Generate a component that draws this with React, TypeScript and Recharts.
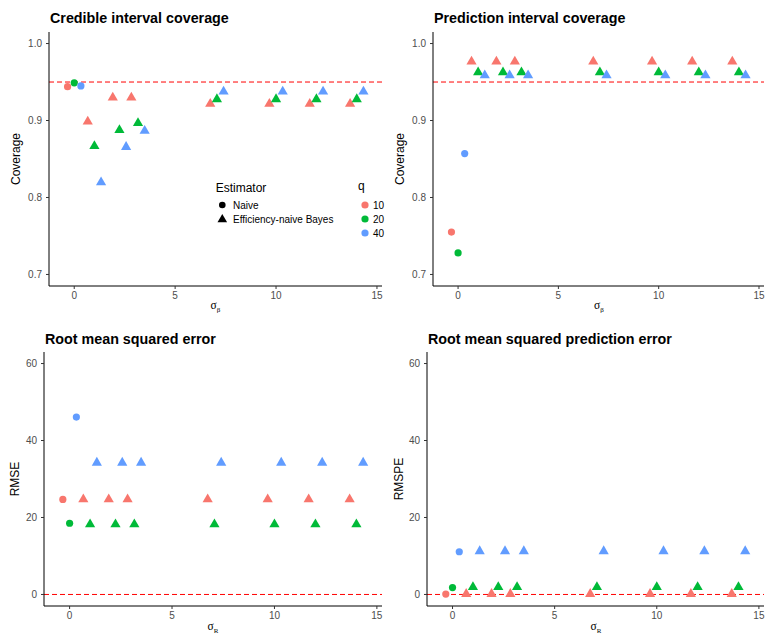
import React from 'react'
import { ScatterChart, Scatter, XAxis, YAxis, ReferenceLine } from 'recharts'

// sigma levels used by the efficiency-naive Bayes estimator; naive sits at 0
const sigma = [1, 2.24, 3.16, 7.07, 10, 12, 14]
const qLevels = ['10', '20', '40']
const qColors = ['#F8766D', '#00BA38', '#619CFF']
const dodge = [-0.33, 0, 0.33]

const xTicks = [0, 5, 10, 15]
const covTicks = [0.7, 0.8, 0.9, 1.0]
const errTicks = [0, 20, 40, 60]

// Credible interval coverage
const ciNaive = [0.944, 0.949, 0.945]
const ciEnb10 = [0.899, 0.930, 0.930, 0.922, 0.922, 0.922, 0.922]
const ciEnb20 = [0.867, 0.888, 0.897, 0.928, 0.928, 0.928, 0.928]
const ciEnb40 = [0.820, 0.866, 0.887, 0.938, 0.938, 0.938, 0.938]

// Prediction interval coverage
const piNaive = [0.755, 0.728, 0.857]
const piEnb10 = [0.977, 0.977, 0.977, 0.977, 0.977, 0.977, 0.977]
const piEnb20 = [0.963, 0.963, 0.963, 0.963, 0.963, 0.963, 0.963]
const piEnb40 = [0.959, 0.959, 0.959, 0.959, 0.959, 0.959, 0.959]

// RMSE
const rmseNaive = [24.7, 18.5, 46.1]
const rmseEnb10 = [24.8, 24.8, 24.8, 24.8, 24.8, 24.8, 24.8]
const rmseEnb20 = [18.3, 18.3, 18.3, 18.3, 18.3, 18.3, 18.3]
const rmseEnb40 = [34.3, 34.3, 34.3, 34.3, 34.3, 34.3, 34.3]

// RMSPE
const rmspeNaive = [0.1, 1.8, 11.1]
const rmspeEnb10 = [0.2, 0.2, 0.2, 0.2, 0.2, 0.2, 0.2]
const rmspeEnb20 = [2.0, 2.0, 2.0, 2.0, 2.0, 2.0, 2.0]
const rmspeEnb40 = [11.3, 11.3, 11.3, 11.3, 11.3, 11.3, 11.3]

const SANS = '"Liberation Sans", Arial, Helvetica, sans-serif'
const SERIF = '"Liberation Serif", "DejaVu Serif", serif'

const Dot = (props: any) => {
  const { cx, cy, fill } = props
  return <circle cx={cx} cy={cy} r={3.6} fill={fill} />
}

const Tri = (props: any) => {
  const { cx, cy, fill } = props
  return (
    <polygon
      points={`${cx},${cy - 5.6} ${cx - 5.1},${cy + 3.2} ${cx + 5.1},${cy + 3.2}`}
      fill={fill}
    />
  )
}

function series(naive: number[], enb: number[][]) {
  return qLevels.map((q, i) => ({
    q,
    color: qColors[i],
    naive: [{ x: 0 + dodge[i], y: naive[i] }],
    enb: sigma.map((s, j) => ({ x: s + dodge[i], y: enb[i][j] })),
  }))
}

type PanelProps = {
  left: number
  top: number
  width: number
  height: number
  yWidth: number
  xHeight: number
  yDomain: [number, number]
  yTicks: number[]
  refY: number
  fmt: (v: number) => string
  data: ReturnType<typeof series>
}

function Panel(p: PanelProps) {
  const tick = { fontSize: 10, fill: '#4D4D4D', fontFamily: SANS }
  return (
    <div style={{ position: 'absolute', left: p.left, top: p.top }}>
      <ScatterChart
        width={p.width}
        height={p.height}
        margin={{ top: 32, right: 1, left: 0, bottom: 0 }}
      >
        <XAxis
          type="number"
          dataKey="x"
          domain={[-1.25, 15.25]}
          ticks={xTicks}
          allowDataOverflow
          height={p.xHeight}
          tick={tick}
          tickSize={3}
          tickMargin={3}
          axisLine={{ stroke: '#000', strokeWidth: 1 }}
          tickLine={{ stroke: '#333', strokeWidth: 1 }}
        />
        <YAxis
          type="number"
          dataKey="y"
          domain={p.yDomain}
          ticks={p.yTicks}
          allowDataOverflow
          width={p.yWidth}
          tick={tick}
          tickFormatter={p.fmt}
          tickSize={3}
          tickMargin={4}
          axisLine={{ stroke: '#000', strokeWidth: 1 }}
          tickLine={{ stroke: '#333', strokeWidth: 1 }}
        />
        <ReferenceLine y={p.refY} stroke="#FF0000" strokeDasharray="5 3" strokeWidth={1} />
        {p.data.map(s => (
          <Scatter
            key={'n' + s.q}
            data={s.naive}
            fill={s.color}
            shape={Dot}
            isAnimationActive={false}
          />
        ))}
        {p.data.map(s => (
          <Scatter
            key={'e' + s.q}
            data={s.enb}
            fill={s.color}
            shape={Tri}
            isAnimationActive={false}
          />
        ))}
      </ScatterChart>
    </div>
  )
}

function SigmaLabel({ x, y, sub }: { x: number; y: number; sub: string }) {
  return (
    <text x={x} y={y} textAnchor="middle" fontFamily={SERIF} fontSize={11.5} fill="#000">
      σ
      <tspan dy={2.5} fontSize={7}>{sub}</tspan>
    </text>
  )
}

export default function App() {
  const ci = series(ciNaive, [ciEnb10, ciEnb20, ciEnb40])
  const pi = series(piNaive, [piEnb10, piEnb20, piEnb40])
  const rmse = series(rmseNaive, [rmseEnb10, rmseEnb20, rmseEnb40])
  const rmspe = series(rmspeNaive, [rmspeEnb10, rmspeEnb20, rmspeEnb40])
  const covFmt = (v: number) => v.toFixed(1)
  const errFmt = (v: number) => String(v)

  const titleStyle = { fontFamily: SANS, fontSize: 14.3, fontWeight: 700, fill: '#000' }
  const axTitle = { fontFamily: SANS, fontSize: 12, fill: '#000' }
  const legTitle = { fontFamily: SANS, fontSize: 12, fill: '#000' }
  const legText = { fontFamily: SANS, fontSize: 10, fill: '#000' }

  return (
    <div style={{ position: 'fixed', left: 0, top: 0, width: 765, height: 633, background: '#fff', overflow: 'hidden' }}>
      <Panel left={0} top={0} width={383} height={316} yWidth={49} xHeight={30}
        yDomain={[0.685, 1.015]} yTicks={covTicks} refY={0.95} fmt={covFmt} data={ci} />
      <Panel left={383} top={0} width={382} height={316} yWidth={50} xHeight={30}
        yDomain={[0.685, 1.015]} yTicks={covTicks} refY={0.95} fmt={covFmt} data={pi} />
      <Panel left={0} top={320} width={383} height={313} yWidth={44} xHeight={27}
        yDomain={[-3, 63]} yTicks={errTicks} refY={0} fmt={errFmt} data={rmse} />
      <Panel left={383} top={320} width={382} height={313} yWidth={44} xHeight={27}
        yDomain={[-3, 63]} yTicks={errTicks} refY={0} fmt={errFmt} data={rmspe} />

      <svg width={765} height={633} style={{ position: 'absolute', left: 0, top: 0, pointerEvents: 'none' }}>
        <text x={50} y={23} {...titleStyle}>Credible interval coverage</text>
        <text x={434} y={23} {...titleStyle}>Prediction interval coverage</text>
        <text x={45} y={344} {...titleStyle}>Root mean squared error</text>
        <text x={428} y={344} {...titleStyle}>Root mean squared prediction error</text>

        <text transform="translate(15.5,159) rotate(-90)" textAnchor="middle" dominantBaseline="central" {...axTitle}>Coverage</text>
        <text transform="translate(399.7,159) rotate(-90)" textAnchor="middle" dominantBaseline="central" {...axTitle}>Coverage</text>
        <text transform="translate(15.3,479) rotate(-90)" textAnchor="middle" dominantBaseline="central" {...axTitle}>RMSE</text>
        <text transform="translate(399,479) rotate(-90)" textAnchor="middle" dominantBaseline="central" {...axTitle}>RMSPE</text>

        <SigmaLabel x={215.5} y={309} sub="β" />
        <SigmaLabel x={599} y={309} sub="β" />
        <SigmaLabel x={213} y={630} sub="R" />
        <SigmaLabel x={596} y={630} sub="R" />

        {/* legend */}
        <text x={215.7} y={191.5} {...legTitle}>Estimator</text>
        <circle cx={222.3} cy={205} r={3.3} fill="#000" />
        <text x={233} y={205} dominantBaseline="central" {...legText}>Naive</text>
        <polygon points="222.3,214 217.5,222.3 227.1,222.3" fill="#000" />
        <text x={233} y={219.3} dominantBaseline="central" {...legText}>Efficiency-naive Bayes</text>

        <text x={358} y={190} {...legTitle}>q</text>
        {qLevels.map((q, i) => (
          <g key={q}>
            <circle cx={365} cy={205 + i * 14} r={3.6} fill={qColors[i]} />
            <text x={373} y={205 + i * 14} dominantBaseline="central" {...legText}>{q}</text>
          </g>
        ))}
      </svg>
    </div>
  )
}
